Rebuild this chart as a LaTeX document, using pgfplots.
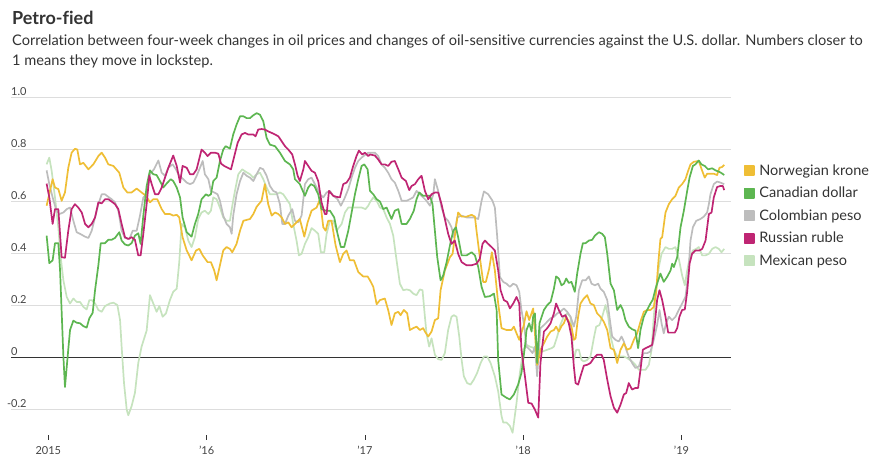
\documentclass[border=0pt]{standalone}
\usepackage{fontspec}
\setmainfont[Ligatures={NoCommon}]{Lato}
\usepackage{pgfplots}
\pgfplotsset{compat=1.18}
\definecolor{cNY}{HTML}{EFBE35}
\definecolor{cCD}{HTML}{5DB651}
\definecolor{cCP}{HTML}{BDBDBD}
\definecolor{cRR}{HTML}{BF2573}
\definecolor{cMP}{HTML}{C6E3BE}
\definecolor{cGrid}{HTML}{DDDDDD}
\definecolor{cTxt}{HTML}{333333}
\definecolor{cTick}{HTML}{444444}
\begin{document}
\begin{tikzpicture}[x=1pt,y=1pt]
\useasboundingbox (0,0) rectangle (881,-474);
\node[anchor=base west, inner sep=0, font=\fontsize{18}{20}\selectfont\bfseries, text=cTxt] at (12,-24) {Petro-fied};
\node[anchor=base west, inner sep=0, font=\fontsize{14.6}{16}\selectfont, text=cTxt] at (12,-45) {Correlation between four-week changes in oil prices and changes of oil-sensitive currencies against the U.S. dollar. Numbers closer to};
\node[anchor=base west, inner sep=0, font=\fontsize{14.6}{16}\selectfont, text=cTxt] at (12,-65) {1 means they move in lockstep.};
\begin{axis}[
  at={(11pt,-435.3pt)}, anchor=south west,
  scale only axis, width=719.7pt, height=338pt,
  xmin=2014.764, xmax=2019.311, ymin=-0.3, ymax=1.0,
  axis line style={draw=none},
  ymajorgrids, grid style={draw=cGrid, line width=0.9pt},
  ytick={-0.2,0.2,0.4,0.6,0.8,1.0},
  yticklabels={\llap{-}0.2,0.2,0.4,0.6,0.8,1.0},
  extra y ticks={0}, extra y tick labels={0},
  extra y tick style={grid style={draw=cTxt, line width=1.1pt}, ytick style={draw=none}},
  ytick style={draw=none},
  yticklabel style={anchor=south west, inner sep=0pt, xshift=4.5pt, yshift=2pt, font=\fontsize{11}{12}\selectfont, text=cTick},
  xtick={2015,2016,2017,2018,2019},
  xticklabels={2015,’16,’17,’18,’19},
  xtick pos=bottom, tick align=outside, major tick length=4.5pt,
  xtick style={draw=cTxt, line width=0.8pt},
  xticklabel style={font=\fontsize{11}{12}\selectfont, text=cTick, yshift=-3pt},
  /pgf/number format/assume math mode=true,
  legend style={at={(1.018,0.801)}, anchor=north west, draw=none, fill=none, inner sep=0pt, outer sep=0pt, row sep=10.4pt, column sep=4.7pt, nodes={inner sep=0pt}, font=\fontsize{14.5}{16}\selectfont, text=cTxt},
  legend cell align=left,
  legend image code/.code={\fill[#1] (0pt,-4.65pt) rectangle (9.3pt,4.65pt);},
  every axis plot/.append style={line width=1.7pt, line join=round},
]
\addlegendimage{color=cNY}\addlegendentry{\rule[-3.5pt]{0pt}{14pt}Norwegian krone}
\addlegendimage{color=cCD}\addlegendentry{\rule[-3.5pt]{0pt}{14pt}Canadian dollar}
\addlegendimage{color=cCP}\addlegendentry{\rule[-3.5pt]{0pt}{14pt}Colombian peso}
\addlegendimage{color=cRR}\addlegendentry{\rule[-3.5pt]{0pt}{14pt}Russian ruble}
\addlegendimage{color=cMP}\addlegendentry{\rule[-3.5pt]{0pt}{14pt}Mexican peso}
% Mexican peso
\addplot[color=cMP, forget plot] coordinates {
(2014.989,0.742)(2015.006,0.768)(2015.021,0.717)(2015.042,0.615)(2015.063,0.500)(2015.078,0.385)(2015.095,0.296)(2015.116,0.232)(2015.137,0.207)(2015.158,0.226)(2015.179,0.213)(2015.200,0.213)(2015.221,0.194)(2015.242,0.184)(2015.259,0.220)(2015.274,0.220)(2015.295,0.207)(2015.316,0.182)(2015.337,0.175)(2015.358,0.197)(2015.389,0.207)(2015.411,0.210)(2015.436,0.201)(2015.453,0.143)(2015.463,0.041)(2015.478,-0.099)(2015.495,-0.201)(2015.505,-0.223)(2015.526,-0.188)(2015.547,-0.137)(2015.568,-0.022)(2015.589,0.041)(2015.621,0.103)(2015.642,0.239)(2015.663,0.207)(2015.684,0.175)(2015.701,0.197)(2015.722,0.156)(2015.743,0.169)(2015.768,0.220)(2015.789,0.252)(2015.811,0.264)(2015.827,0.366)(2015.842,0.513)(2015.863,0.500)(2015.884,0.449)(2015.905,0.424)(2015.926,0.462)(2015.947,0.532)(2015.968,0.557)(2015.989,0.564)(2016.011,0.551)(2016.027,0.564)(2016.042,0.615)(2016.063,0.608)(2016.084,0.576)(2016.105,0.538)(2016.126,0.525)(2016.147,0.525)(2016.162,0.583)(2016.179,0.640)(2016.200,0.704)(2016.225,0.723)(2016.246,0.714)(2016.274,0.704)(2016.295,0.691)(2016.316,0.704)(2016.337,0.710)(2016.358,0.685)(2016.379,0.653)(2016.400,0.627)(2016.421,0.627)(2016.442,0.627)(2016.463,0.634)(2016.484,0.627)(2016.505,0.608)(2016.526,0.589)(2016.547,0.513)(2016.568,0.449)(2016.583,0.392)(2016.600,0.398)(2016.621,0.436)(2016.642,0.462)(2016.663,0.497)(2016.684,0.487)(2016.705,0.475)(2016.722,0.404)(2016.743,0.404)(2016.758,0.475)(2016.779,0.525)(2016.800,0.525)(2016.821,0.487)(2016.853,0.513)(2016.874,0.557)(2016.895,0.576)(2016.947,0.576)(2016.979,0.576)(2017.004,0.570)(2017.021,0.583)(2017.032,0.596)(2017.053,0.615)(2017.074,0.602)(2017.095,0.576)(2017.116,0.570)(2017.137,0.538)(2017.158,0.513)(2017.179,0.468)(2017.200,0.373)(2017.221,0.283)(2017.242,0.258)(2017.263,0.261)(2017.284,0.258)(2017.305,0.245)(2017.326,0.239)(2017.347,0.261)(2017.364,0.258)(2017.379,0.156)(2017.389,0.092)(2017.406,0.041)(2017.421,0.073)(2017.442,0.010)(2017.463,-0.007)(2017.484,-0.010)(2017.505,0.016)(2017.526,0.105)(2017.547,0.156)(2017.562,0.162)(2017.579,0.156)(2017.596,0.080)(2017.611,-0.010)(2017.625,-0.073)(2017.646,-0.099)(2017.667,-0.105)(2017.688,-0.086)(2017.709,-0.060)(2017.731,-0.022)(2017.752,0.003)(2017.773,0.003)(2017.794,-0.022)(2017.821,-0.073)(2017.842,-0.131)(2017.863,-0.226)(2017.874,-0.251)(2017.895,-0.251)(2017.916,-0.264)(2017.933,-0.290)(2017.958,-0.175)(2017.979,-0.060)(2018.000,0.029)(2018.021,0.048)(2018.042,0.041)(2018.074,0.035)(2018.099,0.029)(2018.120,0.022)(2018.152,0.029)(2018.179,0.035)(2018.194,0.041)(2018.215,0.080)(2018.234,0.124)(2018.257,0.156)(2018.278,0.169)(2018.299,0.156)(2018.320,-0.010)(2018.335,0.029)(2018.352,0.029)(2018.368,-0.010)(2018.383,-0.016)(2018.404,-0.010)(2018.425,0.003)(2018.446,0.073)(2018.461,0.118)(2018.482,0.124)(2018.499,0.156)(2018.520,0.201)(2018.537,0.156)(2018.552,0.080)(2018.573,0.029)(2018.594,0.003)(2018.615,0.003)(2018.636,0.003)(2018.657,-0.003)(2018.688,-0.016)(2018.709,-0.029)(2018.731,-0.048)(2018.752,-0.048)(2018.773,-0.048)(2018.794,-0.029)(2018.811,0.029)(2018.825,0.156)(2018.840,0.258)(2018.857,0.347)(2018.874,0.398)(2018.899,0.424)(2018.920,0.417)(2018.941,0.417)(2018.962,0.424)(2018.983,0.379)(2019.004,0.315)(2019.021,0.277)(2019.036,0.334)(2019.051,0.379)(2019.072,0.411)(2019.093,0.417)(2019.109,0.424)(2019.131,0.392)(2019.152,0.392)(2019.173,0.398)(2019.194,0.417)(2019.215,0.424)(2019.236,0.417)(2019.253,0.404)(2019.270,0.417)
};
% Colombian peso
\addplot[color=cCP, forget plot] coordinates {
(2014.989,0.719)(2015.006,0.666)(2015.027,0.615)(2015.048,0.570)(2015.069,0.551)(2015.095,0.557)(2015.116,0.570)(2015.137,0.576)(2015.158,0.525)(2015.179,0.481)(2015.200,0.475)(2015.232,0.464)(2015.253,0.459)(2015.274,0.487)(2015.295,0.538)(2015.316,0.589)(2015.337,0.627)(2015.358,0.627)(2015.379,0.617)(2015.400,0.608)(2015.421,0.596)(2015.442,0.564)(2015.463,0.487)(2015.484,0.459)(2015.512,0.455)(2015.533,0.487)(2015.558,0.487)(2015.579,0.545)(2015.600,0.615)(2015.621,0.627)(2015.642,0.704)(2015.667,0.723)(2015.695,0.757)(2015.716,0.710)(2015.737,0.698)(2015.758,0.729)(2015.785,0.742)(2015.806,0.723)(2015.827,0.698)(2015.853,0.685)(2015.874,0.672)(2015.895,0.666)(2015.916,0.672)(2015.937,0.698)(2015.958,0.729)(2015.975,0.755)(2015.989,0.704)(2016.011,0.685)(2016.027,0.640)(2016.048,0.634)(2016.069,0.627)(2016.084,0.602)(2016.105,0.545)(2016.126,0.513)(2016.147,0.500)(2016.158,0.475)(2016.168,0.545)(2016.189,0.627)(2016.211,0.678)(2016.232,0.710)(2016.253,0.698)(2016.274,0.691)(2016.295,0.678)(2016.316,0.704)(2016.337,0.729)(2016.358,0.723)(2016.379,0.698)(2016.400,0.659)(2016.421,0.640)(2016.442,0.634)(2016.463,0.589)(2016.478,0.513)(2016.495,0.513)(2016.516,0.545)(2016.541,0.570)(2016.558,0.525)(2016.579,0.519)(2016.600,0.545)(2016.621,0.666)(2016.642,0.685)(2016.663,0.691)(2016.684,0.666)(2016.716,0.627)(2016.737,0.615)(2016.758,0.634)(2016.779,0.640)(2016.800,0.621)(2016.827,0.608)(2016.848,0.583)(2016.869,0.608)(2016.895,0.647)(2016.916,0.691)(2016.937,0.729)(2016.958,0.755)(2016.979,0.768)(2017.000,0.778)(2017.021,0.787)(2017.032,0.787)(2017.063,0.787)(2017.084,0.774)(2017.105,0.742)(2017.126,0.729)(2017.147,0.710)(2017.168,0.685)(2017.189,0.672)(2017.211,0.640)(2017.232,0.602)(2017.263,0.602)(2017.284,0.608)(2017.305,0.615)(2017.326,0.640)(2017.347,0.627)(2017.368,0.615)(2017.389,0.602)(2017.411,0.583)(2017.432,0.627)(2017.442,0.685)(2017.463,0.640)(2017.484,0.576)(2017.505,0.538)(2017.526,0.525)(2017.547,0.500)(2017.562,0.462)(2017.583,0.538)(2017.611,0.545)(2017.642,0.538)(2017.688,0.538)(2017.716,0.532)(2017.737,0.602)(2017.752,0.638)(2017.779,0.627)(2017.806,0.602)(2017.821,0.576)(2017.836,0.462)(2017.853,0.309)(2017.874,0.290)(2017.895,0.283)(2017.916,0.271)(2017.937,0.283)(2017.958,0.277)(2017.975,0.252)(2017.989,0.182)(2018.004,0.131)(2018.021,0.041)(2018.042,0.029)(2018.059,0.016)(2018.074,0.041)(2018.088,-0.073)(2018.109,0.112)(2018.131,0.124)(2018.152,0.137)(2018.173,0.150)(2018.194,0.156)(2018.215,0.169)(2018.234,0.175)(2018.257,0.188)(2018.278,0.175)(2018.299,0.156)(2018.320,0.118)(2018.335,0.156)(2018.352,0.258)(2018.373,0.296)(2018.394,0.296)(2018.415,0.311)(2018.432,0.283)(2018.453,0.277)(2018.474,0.283)(2018.488,0.264)(2018.509,0.252)(2018.531,0.220)(2018.545,0.156)(2018.562,0.080)(2018.583,0.067)(2018.604,0.061)(2018.621,0.080)(2018.636,0.061)(2018.651,0.029)(2018.667,0.003)(2018.688,-0.022)(2018.709,-0.041)(2018.731,-0.035)(2018.747,-0.003)(2018.762,0.016)(2018.783,0.016)(2018.804,0.022)(2018.825,0.067)(2018.846,0.124)(2018.861,0.182)(2018.874,0.131)(2018.888,0.092)(2018.903,0.131)(2018.920,0.156)(2018.941,0.143)(2018.962,0.156)(2018.983,0.182)(2019.004,0.207)(2019.025,0.232)(2019.042,0.315)(2019.057,0.449)(2019.072,0.500)(2019.093,0.525)(2019.120,0.532)(2019.141,0.541)(2019.162,0.557)(2019.173,0.589)(2019.183,0.627)(2019.204,0.666)(2019.225,0.676)(2019.246,0.672)(2019.270,0.666)
};
% Norwegian krone
\addplot[color=cNY, forget plot] coordinates {
(2014.989,0.583)(2015.027,0.685)(2015.042,0.653)(2015.063,0.647)(2015.084,0.602)(2015.105,0.634)(2015.126,0.729)(2015.147,0.787)(2015.168,0.802)(2015.183,0.799)(2015.200,0.742)(2015.221,0.748)(2015.253,0.723)(2015.284,0.742)(2015.316,0.774)(2015.337,0.787)(2015.358,0.768)(2015.379,0.742)(2015.411,0.736)(2015.448,0.710)(2015.474,0.653)(2015.499,0.634)(2015.526,0.634)(2015.558,0.649)(2015.589,0.634)(2015.617,0.621)(2015.642,0.596)(2015.663,0.608)(2015.688,0.608)(2015.716,0.570)(2015.737,0.551)(2015.768,0.551)(2015.789,0.545)(2015.811,0.548)(2015.827,0.538)(2015.848,0.462)(2015.874,0.411)(2015.905,0.373)(2015.933,0.411)(2015.954,0.417)(2015.975,0.392)(2016.006,0.366)(2016.027,0.366)(2016.048,0.334)(2016.063,0.296)(2016.084,0.354)(2016.105,0.411)(2016.126,0.424)(2016.147,0.417)(2016.162,0.404)(2016.189,0.436)(2016.211,0.487)(2016.232,0.525)(2016.274,0.532)(2016.295,0.551)(2016.316,0.579)(2016.347,0.602)(2016.368,0.666)(2016.389,0.589)(2016.411,0.545)(2016.432,0.557)(2016.453,0.551)(2016.474,0.538)(2016.495,0.513)(2016.516,0.519)(2016.537,0.500)(2016.558,0.513)(2016.589,0.532)(2016.617,0.464)(2016.638,0.519)(2016.663,0.564)(2016.695,0.576)(2016.716,0.608)(2016.737,0.500)(2016.752,0.487)(2016.768,0.525)(2016.789,0.525)(2016.815,0.430)(2016.842,0.366)(2016.863,0.398)(2016.884,0.411)(2016.905,0.373)(2016.931,0.373)(2016.958,0.328)(2016.989,0.311)(2017.017,0.311)(2017.032,0.296)(2017.053,0.271)(2017.074,0.204)(2017.095,0.220)(2017.126,0.226)(2017.147,0.182)(2017.168,0.124)(2017.189,0.169)(2017.211,0.175)(2017.225,0.162)(2017.246,0.182)(2017.267,0.169)(2017.284,0.105)(2017.305,0.112)(2017.326,0.118)(2017.347,0.105)(2017.368,0.112)(2017.379,0.099)(2017.400,0.080)(2017.421,0.099)(2017.442,0.143)(2017.463,0.150)(2017.478,0.258)(2017.505,0.334)(2017.537,0.385)(2017.554,0.398)(2017.575,0.500)(2017.589,0.557)(2017.611,0.541)(2017.642,0.541)(2017.674,0.548)(2017.695,0.541)(2017.705,0.487)(2017.726,0.385)(2017.747,0.290)(2017.764,0.290)(2017.785,0.341)(2017.802,0.404)(2017.821,0.334)(2017.842,0.207)(2017.863,0.112)(2017.895,0.105)(2017.926,0.105)(2017.941,0.118)(2017.958,0.092)(2017.975,0.067)(2018.004,0.124)(2018.021,0.177)(2018.038,0.143)(2018.063,0.188)(2018.088,-0.029)(2018.109,0.029)(2018.131,0.054)(2018.152,0.080)(2018.173,0.099)(2018.194,0.105)(2018.208,0.118)(2018.225,0.099)(2018.242,0.120)(2018.257,0.131)(2018.272,0.156)(2018.288,0.137)(2018.305,0.118)(2018.320,0.067)(2018.331,0.073)(2018.347,0.156)(2018.362,0.207)(2018.383,0.226)(2018.404,0.239)(2018.425,0.207)(2018.446,0.201)(2018.467,0.169)(2018.488,0.156)(2018.509,0.137)(2018.531,0.105)(2018.552,0.035)(2018.573,0.029)(2018.594,-0.022)(2018.615,0.029)(2018.636,0.054)(2018.657,0.029)(2018.678,0.035)(2018.699,0.067)(2018.720,0.092)(2018.741,0.137)(2018.762,0.175)(2018.783,0.182)(2018.804,0.182)(2018.825,0.194)(2018.840,0.252)(2018.853,0.360)(2018.867,0.455)(2018.878,0.462)(2018.899,0.557)(2018.920,0.589)(2018.941,0.608)(2018.962,0.621)(2018.983,0.653)(2019.004,0.666)(2019.025,0.685)(2019.042,0.717)(2019.057,0.742)(2019.078,0.752)(2019.109,0.755)(2019.131,0.717)(2019.147,0.691)(2019.162,0.706)(2019.183,0.706)(2019.204,0.706)(2019.225,0.701)(2019.240,0.729)(2019.257,0.732)(2019.270,0.740)
};
% Canadian dollar
\addplot[color=cCD, forget plot] coordinates {
(2014.989,0.468)(2015.006,0.362)(2015.027,0.373)(2015.042,0.439)(2015.063,0.439)(2015.074,0.334)(2015.095,0.003)(2015.105,-0.114)(2015.120,-0.010)(2015.137,0.105)(2015.158,0.141)(2015.179,0.133)(2015.200,0.131)(2015.221,0.120)(2015.242,0.114)(2015.259,0.150)(2015.280,0.171)(2015.295,0.258)(2015.316,0.354)(2015.331,0.439)(2015.358,0.439)(2015.379,0.452)(2015.400,0.452)(2015.421,0.459)(2015.448,0.481)(2015.463,0.449)(2015.484,0.434)(2015.505,0.430)(2015.526,0.439)(2015.547,0.468)(2015.568,0.477)(2015.583,0.436)(2015.600,0.545)(2015.621,0.659)(2015.642,0.719)(2015.663,0.704)(2015.684,0.701)(2015.705,0.678)(2015.726,0.653)(2015.747,0.668)(2015.773,0.685)(2015.789,0.678)(2015.811,0.653)(2015.832,0.615)(2015.848,0.538)(2015.874,0.481)(2015.905,0.464)(2015.926,0.513)(2015.947,0.551)(2015.968,0.608)(2015.996,0.627)(2016.011,0.621)(2016.027,0.627)(2016.042,0.678)(2016.063,0.691)(2016.084,0.755)(2016.105,0.799)(2016.120,0.812)(2016.147,0.803)(2016.168,0.857)(2016.189,0.895)(2016.211,0.927)(2016.232,0.927)(2016.253,0.920)(2016.274,0.920)(2016.295,0.931)(2016.316,0.939)(2016.337,0.933)(2016.358,0.908)(2016.379,0.844)(2016.400,0.818)(2016.432,0.812)(2016.463,0.787)(2016.495,0.755)(2016.526,0.742)(2016.547,0.723)(2016.558,0.685)(2016.589,0.666)(2016.621,0.621)(2016.642,0.653)(2016.659,0.666)(2016.680,0.659)(2016.705,0.627)(2016.726,0.570)(2016.752,0.564)(2016.779,0.564)(2016.806,0.538)(2016.827,0.475)(2016.848,0.424)(2016.869,0.424)(2016.895,0.487)(2016.916,0.557)(2016.937,0.627)(2016.958,0.685)(2016.979,0.736)(2016.996,0.742)(2017.017,0.723)(2017.032,0.640)(2017.053,0.627)(2017.074,0.608)(2017.095,0.599)(2017.116,0.570)(2017.137,0.576)(2017.168,0.532)(2017.189,0.564)(2017.211,0.570)(2017.232,0.513)(2017.263,0.513)(2017.284,0.532)(2017.309,0.564)(2017.326,0.608)(2017.343,0.634)(2017.368,0.621)(2017.411,0.621)(2017.427,0.589)(2017.442,0.487)(2017.457,0.385)(2017.478,0.296)(2017.495,0.315)(2017.516,0.366)(2017.537,0.430)(2017.558,0.487)(2017.575,0.500)(2017.589,0.462)(2017.611,0.392)(2017.642,0.392)(2017.674,0.404)(2017.695,0.392)(2017.716,0.347)(2017.737,0.271)(2017.758,0.232)(2017.789,0.235)(2017.815,0.245)(2017.832,0.182)(2017.842,-0.010)(2017.863,-0.143)(2017.895,-0.156)(2017.916,-0.162)(2017.941,-0.143)(2017.968,-0.105)(2017.989,-0.060)(2018.011,0.041)(2018.021,0.105)(2018.038,0.131)(2018.053,0.099)(2018.063,0.158)(2018.074,0.169)(2018.088,-0.022)(2018.103,0.131)(2018.131,0.182)(2018.152,0.201)(2018.173,0.213)(2018.194,0.264)(2018.208,0.311)(2018.225,0.303)(2018.242,0.277)(2018.257,0.283)(2018.272,0.303)(2018.288,0.286)(2018.305,0.290)(2018.326,0.252)(2018.341,0.322)(2018.362,0.398)(2018.377,0.439)(2018.394,0.439)(2018.415,0.449)(2018.436,0.452)(2018.453,0.468)(2018.478,0.481)(2018.499,0.475)(2018.516,0.462)(2018.531,0.398)(2018.552,0.283)(2018.573,0.258)(2018.594,0.182)(2018.615,0.201)(2018.630,0.182)(2018.646,0.143)(2018.667,0.118)(2018.688,0.108)(2018.709,0.103)(2018.726,0.035)(2018.741,0.105)(2018.762,0.156)(2018.783,0.182)(2018.804,0.207)(2018.819,0.222)(2018.836,0.264)(2018.853,0.296)(2018.867,0.322)(2018.888,0.290)(2018.909,0.309)(2018.931,0.334)(2018.941,0.360)(2018.952,0.347)(2018.973,0.385)(2018.994,0.500)(2019.015,0.564)(2019.036,0.640)(2019.051,0.691)(2019.072,0.736)(2019.088,0.742)(2019.109,0.757)(2019.126,0.742)(2019.147,0.736)(2019.168,0.723)(2019.194,0.727)(2019.215,0.719)(2019.236,0.714)(2019.249,0.710)(2019.270,0.701)
};
% Russian ruble
\addplot[color=cRR, forget plot] coordinates {
(2014.989,0.668)(2015.006,0.615)(2015.027,0.513)(2015.042,0.570)(2015.063,0.570)(2015.084,0.385)(2015.105,0.383)(2015.126,0.487)(2015.147,0.570)(2015.168,0.589)(2015.189,0.576)(2015.211,0.557)(2015.232,0.513)(2015.253,0.500)(2015.274,0.513)(2015.295,0.538)(2015.316,0.596)(2015.337,0.592)(2015.358,0.608)(2015.379,0.608)(2015.400,0.599)(2015.421,0.589)(2015.442,0.570)(2015.463,0.513)(2015.484,0.462)(2015.505,0.455)(2015.526,0.462)(2015.547,0.452)(2015.568,0.392)(2015.583,0.392)(2015.600,0.475)(2015.621,0.589)(2015.638,0.698)(2015.653,0.666)(2015.674,0.627)(2015.695,0.627)(2015.716,0.653)(2015.737,0.691)(2015.758,0.729)(2015.789,0.776)(2015.811,0.736)(2015.832,0.672)(2015.848,0.736)(2015.874,0.729)(2015.895,0.704)(2015.916,0.704)(2015.937,0.723)(2015.968,0.799)(2015.989,0.787)(2016.006,0.774)(2016.027,0.787)(2016.053,0.787)(2016.074,0.783)(2016.091,0.745)(2016.111,0.736)(2016.133,0.729)(2016.154,0.723)(2016.175,0.774)(2016.196,0.825)(2016.221,0.857)(2016.242,0.863)(2016.263,0.857)(2016.295,0.857)(2016.309,0.850)(2016.326,0.876)(2016.347,0.878)(2016.368,0.876)(2016.389,0.869)(2016.411,0.863)(2016.432,0.857)(2016.453,0.850)(2016.474,0.831)(2016.495,0.812)(2016.516,0.799)(2016.541,0.780)(2016.558,0.742)(2016.575,0.698)(2016.589,0.678)(2016.611,0.723)(2016.621,0.755)(2016.642,0.736)(2016.663,0.717)(2016.684,0.710)(2016.705,0.678)(2016.726,0.596)(2016.747,0.551)(2016.758,0.551)(2016.773,0.640)(2016.800,0.621)(2016.821,0.617)(2016.842,0.615)(2016.863,0.666)(2016.884,0.672)(2016.905,0.691)(2016.926,0.736)(2016.947,0.774)(2016.962,0.795)(2016.983,0.780)(2017.000,0.787)(2017.021,0.774)(2017.032,0.780)(2017.063,0.776)(2017.084,0.761)(2017.105,0.742)(2017.126,0.742)(2017.147,0.736)(2017.168,0.752)(2017.189,0.755)(2017.211,0.723)(2017.232,0.691)(2017.259,0.678)(2017.280,0.643)(2017.295,0.659)(2017.316,0.666)(2017.337,0.685)(2017.358,0.698)(2017.379,0.640)(2017.400,0.608)(2017.421,0.627)(2017.442,0.634)(2017.463,0.634)(2017.484,0.589)(2017.505,0.532)(2017.526,0.475)(2017.547,0.436)(2017.568,0.449)(2017.589,0.398)(2017.611,0.366)(2017.642,0.354)(2017.674,0.354)(2017.705,0.360)(2017.726,0.379)(2017.743,0.436)(2017.758,0.449)(2017.779,0.436)(2017.800,0.424)(2017.821,0.411)(2017.842,0.334)(2017.857,0.258)(2017.878,0.220)(2017.899,0.213)(2017.916,0.188)(2017.937,0.207)(2017.958,0.232)(2017.975,0.207)(2017.989,0.029)(2018.011,-0.073)(2018.032,-0.175)(2018.053,-0.178)(2018.074,-0.201)(2018.095,-0.232)(2018.109,-0.022)(2018.131,0.099)(2018.152,0.112)(2018.173,0.131)(2018.194,0.169)(2018.208,0.207)(2018.225,0.182)(2018.246,0.156)(2018.267,0.162)(2018.288,0.131)(2018.305,0.080)(2018.320,-0.035)(2018.331,-0.099)(2018.347,-0.105)(2018.362,-0.073)(2018.383,-0.032)(2018.404,-0.029)(2018.425,-0.022)(2018.446,-0.003)(2018.467,0.010)(2018.495,0.010)(2018.509,-0.010)(2018.531,-0.086)(2018.552,-0.150)(2018.573,-0.194)(2018.594,-0.213)(2018.615,-0.182)(2018.636,-0.143)(2018.651,-0.137)(2018.667,-0.099)(2018.688,-0.124)(2018.709,-0.118)(2018.726,-0.118)(2018.741,-0.048)(2018.756,0.029)(2018.773,0.035)(2018.794,0.041)(2018.815,0.048)(2018.832,0.131)(2018.846,0.220)(2018.861,0.258)(2018.878,0.220)(2018.899,0.156)(2018.916,0.095)(2018.937,0.095)(2018.958,0.095)(2018.973,0.112)(2018.987,0.156)(2019.004,0.182)(2019.021,0.184)(2019.036,0.252)(2019.051,0.360)(2019.067,0.398)(2019.088,0.411)(2019.114,0.411)(2019.131,0.417)(2019.152,0.449)(2019.173,0.551)(2019.190,0.557)(2019.204,0.615)(2019.225,0.655)(2019.246,0.659)(2019.261,0.659)(2019.270,0.643)
};
\end{axis}
\end{tikzpicture}
\end{document}
